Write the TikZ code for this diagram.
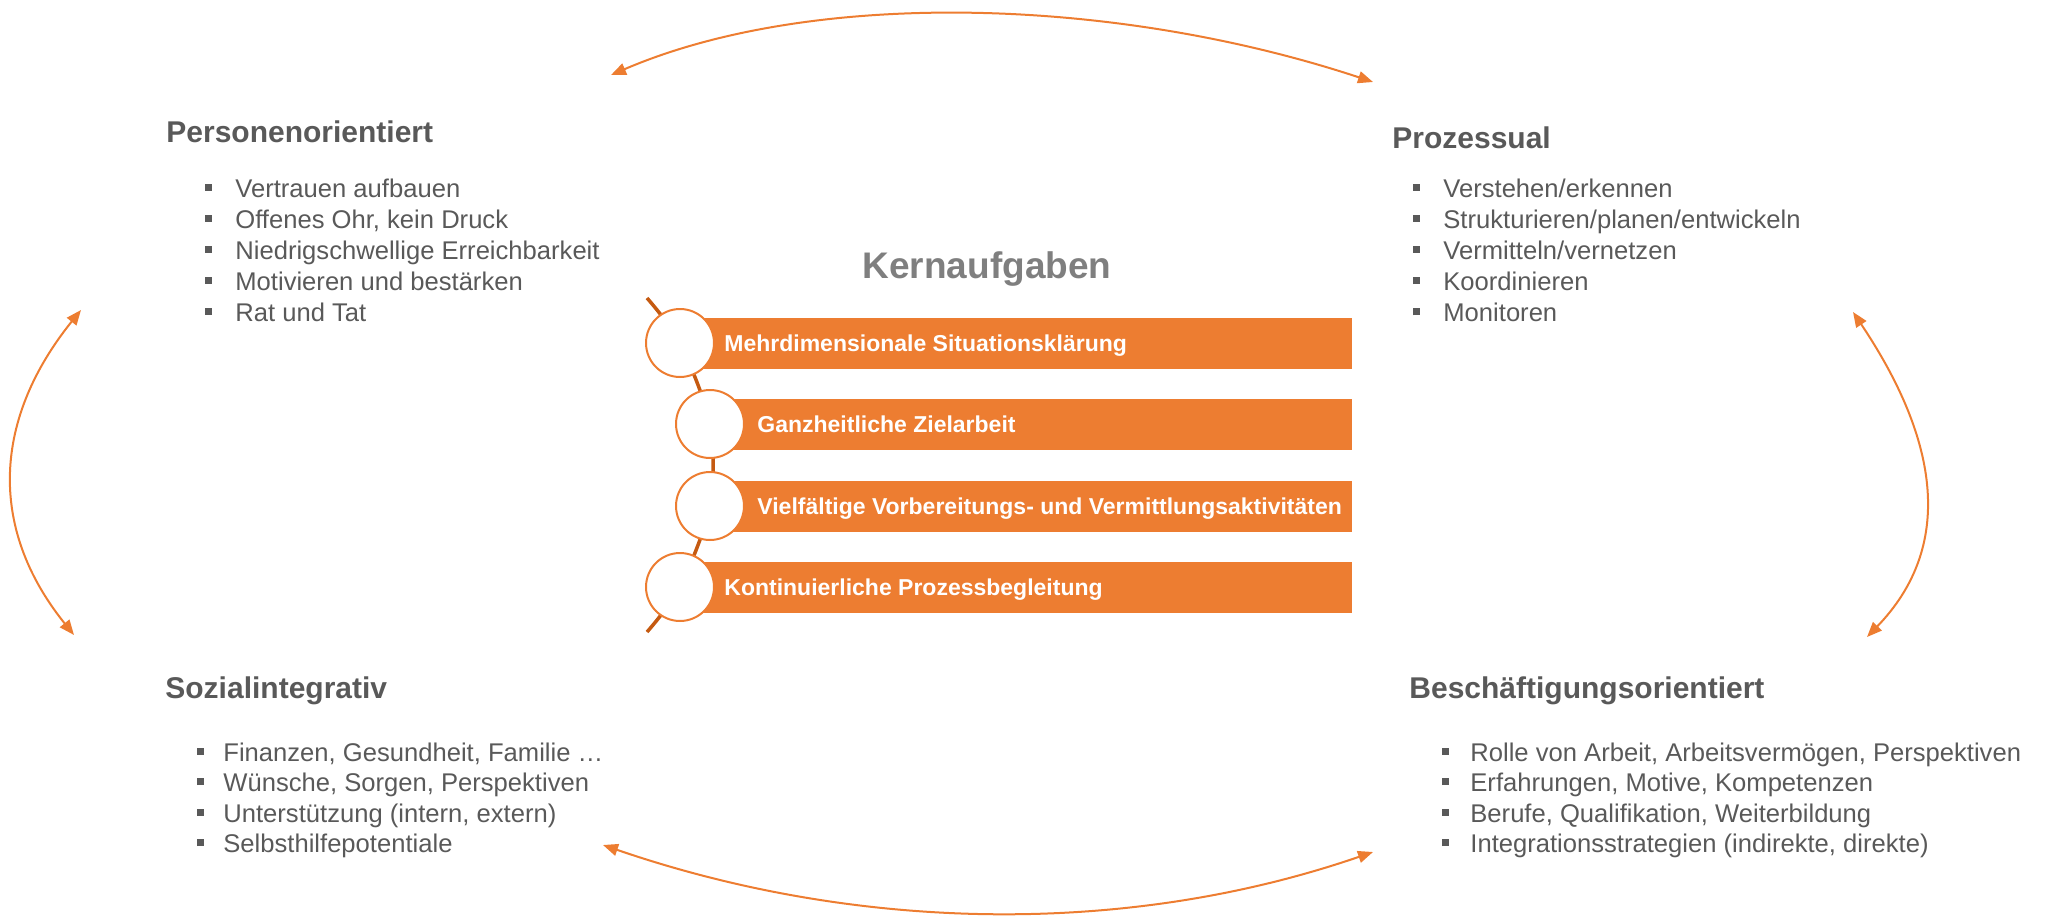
\documentclass[tikz,border=0pt]{standalone}
\usepackage{fontspec}
\setmainfont{Liberation Sans}
\usetikzlibrary{arrows.meta,positioning}
\definecolor{kgray}{HTML}{595959}
\definecolor{lgray}{HTML}{7F7F7F}
\definecolor{korange}{HTML}{ED7D31}
\definecolor{kbrown}{HTML}{C55A11}
\newcommand{\blt}[1]{\textcolor{kgray}{\rule[3.25pt]{3.5pt}{3.5pt}}\hspace{#1}}

\begin{document}
\begin{tikzpicture}[x=0.5pt,y=-0.5pt,
  head/.style={anchor=base west,inner sep=0,font=\fontsize{15}{18}\selectfont\bfseries,text=kgray},
  item/.style={anchor=base west,inner sep=0,font=\fontsize{12.8}{15}\selectfont,text=kgray},
  bar/.style={fill=korange,draw=white,line width=0.5pt,anchor=west,minimum height=26pt,inner sep=0},
  knob/.style={circle,draw=korange,fill=white,line width=1pt,minimum size=34pt,inner sep=0},
  bartext/.style={anchor=west,inner sep=0,text=white,font=\fontsize{11.5}{13}\selectfont\bfseries,text height=8.3pt,text depth=0pt},
  link/.style={draw=korange,line width=1pt,{Triangle[length=7.5pt,width=6pt]}-{Triangle[length=7.5pt,width=6pt]}},
  spine/.style={draw=kbrown,line width=1.75pt}]
  \useasboundingbox (0,0) rectangle (2046,916);

  % Kernaufgaben
  \node[anchor=base,inner sep=0,font=\fontsize{18.5}{22}\selectfont\bfseries,text=lgray] (kern) at (987,278) {Kernaufgaben};
  \coordinate (p1) at (680,343);
  \coordinate (p2) at (710,424);
  \coordinate (p3) at (710,506);
  \coordinate (p4) at (680,587);
  \node[bar,minimum width=336pt] (b1) at (p1) {};
  \node[bar,minimum width=321pt] (b2) at (p2) {};
  \node[bar,minimum width=321pt] (b3) at (p3) {};
  \node[bar,minimum width=336pt] (b4) at (p4) {};
  \coordinate (sp-top) at (647,298);
  \coordinate (sp-bot) at (647,632);
  \draw[spine] plot[smooth] coordinates {(sp-top) (p1) (p2) (p3) (p4) (sp-bot)};
  \node[knob] (c1) at (p1) {};
  \node[knob] (c2) at (p2) {};
  \node[knob] (c3) at (p3) {};
  \node[knob] (c4) at (p4) {};
  \node[bartext,right=4.5pt of c1] (t1) {Mehrdimensionale Situationsklärung};
  \node[bartext,right=6pt of c2] (t2) {Ganzheitliche Zielarbeit};
  \node[bartext,right=6pt of c3] (t3) {Vielfältige Vorbereitungs- und Vermittlungsaktivitäten};
  \node[bartext,right=4.5pt of c4] (t4) {Kontinuierliche Prozessbegleitung};

  % die vier Orientierungen
  \node[head] (pers) at (166,142) {Personenorientiert};
  \foreach \txt [count=\i] in {Vertrauen aufbauen,{Offenes Ohr, kein Druck},Niedrigschwellige Erreichbarkeit,Motivieren und bestärken,Rat und Tat}
    \node[item] (pers-\i) at (205,{197+31*(\i-1)}) {\blt{11.5pt}\txt};

  \node[head] (proz) at (1392,148) {Prozessual};
  \foreach \txt [count=\i] in {Verstehen/erkennen,Strukturieren/planen/entwickeln,Vermitteln/vernetzen,Koordinieren,Monitoren}
    \node[item] (proz-\i) at (1413,{197+31.2*(\i-1)}) {\blt{11.5pt}\txt};

  \node[head] (sozi) at (165,698) {Sozialintegrativ};
  \foreach \txt [count=\i] in {{Finanzen, Gesundheit, Familie …},{Wünsche, Sorgen, Perspektiven},{Unterstützung (intern, extern)},Selbsthilfepotentiale}
    \node[item] (sozi-\i) at (197,{761+30.5*(\i-1)}) {\blt{9.5pt}\txt};

  \node[head] (besch) at (1409,698) {Beschäftigungsorientiert};
  \foreach \txt [count=\i] in {{Rolle von Arbeit, Arbeitsvermögen, Perspektiven},{Erfahrungen, Motive, Kompetenzen},{Berufe, Qualifikation, Weiterbildung},{Integrationsstrategien (indirekte, direkte)}}
    \node[item] (besch-\i) at (1442,{761+30.5*(\i-1)}) {\blt{10.5pt}\txt};

  % Pfeile
  \coordinate (pers-n) at (611,75);
  \coordinate (proz-n) at (1373,82);
  \coordinate (pers-w) at (81,310);
  \coordinate (sozi-w) at (74,635);
  \coordinate (proz-e) at (1853,312);
  \coordinate (besch-e) at (1867,637);
  \coordinate (sozi-s) at (603,845);
  \coordinate (besch-s) at (1373,852);
  \draw[link] (pers-n) .. controls +(200,-86) and +(-260,-86) .. (proz-n);
  \draw[link] (pers-w) .. controls +(-87,108) and +(-87,-108) .. (sozi-w);
  \draw[link] (proz-e) .. controls +(87,130) and +(87,-90) .. (besch-e);
  \draw[link] (sozi-s) .. controls +(250,86) and +(-250,86) .. (besch-s);
\end{tikzpicture}
\end{document}
